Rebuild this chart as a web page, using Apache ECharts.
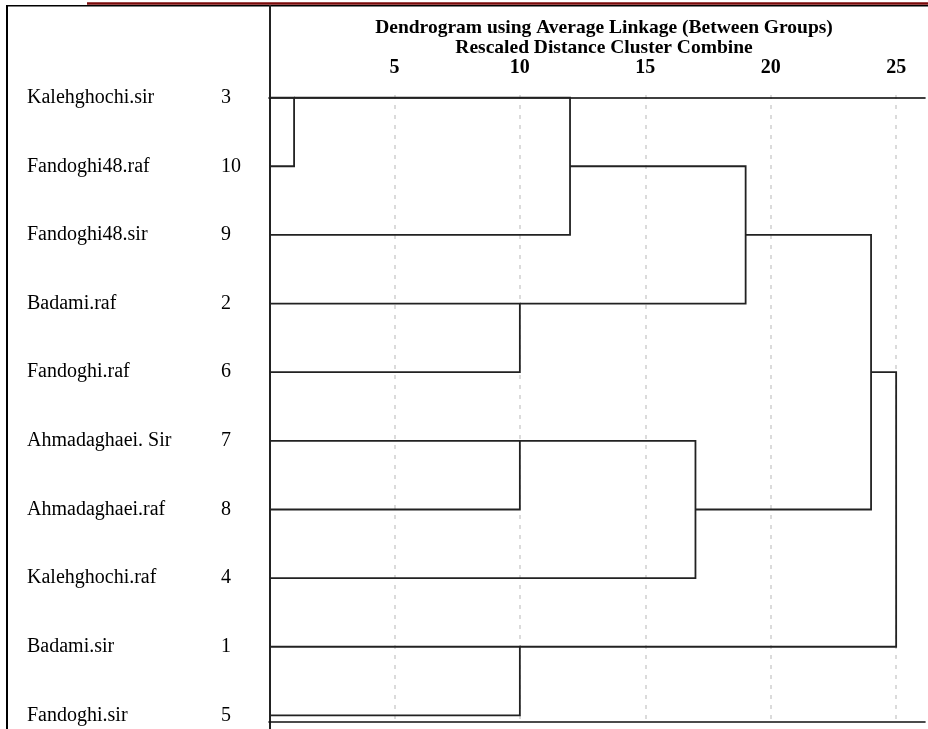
<!DOCTYPE html>
<html>
<head>
<meta charset="utf-8">
<script src="https://cdn.jsdelivr.net/npm/echarts/dist/echarts.min.js"></script>
<style>
html,body{margin:0;padding:0;background:#fff;}
#chart{width:928px;height:729px;}
</style>
</head>
<body>
<div id="chart"></div>
<script>
// ---- data ----
const rowLabels = ['Kalehghochi.sir','Fandoghi48.raf','Fandoghi48.sir','Badami.raf','Fandoghi.raf','Ahmadaghaei. Sir','Ahmadaghaei.raf','Kalehghochi.raf','Badami.sir','Fandoghi.sir'];
const caseNumbers = [3,10,9,2,6,7,8,4,1,5];
const tickValues = [5,10,15,20,25];
// merges: node ids 0..9 are leaves (rows), 10.. are merge results in order
const mergeLeft  = [0, 10, 3, 11, 5, 14, 13, 8, 16];
const mergeRight = [1, 2, 4, 12, 6, 7, 15, 9, 17];
const mergeDist  = [1, 12, 10, 19, 10, 17, 24, 10, 25];
const titleLines = ['Dendrogram using Average Linkage (Between Groups)','Rescaled Distance Cluster Combine'];

// ---- build dendrogram polylines from merge data ----
const nodeX = rowLabels.map(() => 0);
const nodeY = rowLabels.map((_, i) => i);
const segs = [];
for (let k = 0; k < mergeDist.length; k++) {
  const a = mergeLeft[k], b = mergeRight[k], d = mergeDist[k];
  segs.push({coords: [[nodeX[a], nodeY[a]], [d, nodeY[a]], [d, nodeY[b]], [nodeX[b], nodeY[b]]]});
  nodeX.push(d);
  nodeY.push(Math.floor((nodeY[a] + nodeY[b]) / 2));
}
const rowIdx = rowLabels.map((_, i) => i);

const FONT = '"Liberation Serif","Times New Roman",serif';
const chart = echarts.init(document.getElementById('chart'), null, {renderer: 'canvas'});
chart.setOption({
  animation: false,
  backgroundColor: '#fff',
  title: {
    text: titleLines.join('\n'),
    left: 599, top: 13, textAlign: 'center',
    textStyle: {fontFamily: FONT, fontWeight: 'bold', fontSize: 19.5, lineHeight: 20, color: '#000'}
  },
  grid: {left: 269, right: 0, top: 95, bottom: 7, containLabel: false},
  xAxis: [{
    type: 'value', position: 'top', min: 0, max: 26.15, interval: 5,
    axisLine: {show: true, lineStyle: {color: '#000', width: 1.6}},
    axisTick: {show: false},
    axisLabel: {
      margin: 17, fontFamily: FONT, fontWeight: 'bold', fontSize: 20, color: '#000',
      formatter: v => tickValues.includes(v) ? String(v) : ''
    },
    splitLine: {show: true, showMinLine: false, showMaxLine: false, lineStyle: {color: '#cfcfcf', width: 1.5, type: [4, 6]}}
  }, {
    type: 'value', position: 'bottom', min: 0, max: 26.15,
    axisLine: {show: true, onZero: false, lineStyle: {color: '#111', width: 1.6}},
    axisTick: {show: false}, axisLabel: {show: false}, splitLine: {show: false}
  }],
  yAxis: [{
    type: 'value', inverse: true, min: -0.038, max: 9.096, position: 'left',
    axisLine: {show: false}, axisTick: {show: false}, splitLine: {show: false},
    axisLabel: {
      customValues: rowIdx, align: 'left', margin: 242,
      fontFamily: FONT, fontSize: 20, color: '#000',
      formatter: v => rowLabels[v] ?? ''
    }
  }, {
    type: 'value', inverse: true, min: -0.038, max: 9.096, position: 'left', offset: 0,
    axisLine: {show: false}, axisTick: {show: false}, splitLine: {show: false},
    axisLabel: {
      customValues: rowIdx, align: 'left', margin: 48,
      fontFamily: FONT, fontSize: 20, color: '#000',
      formatter: v => String(caseNumbers[v] ?? '')
    }
  }],
  series: [{
    type: 'lines', coordinateSystem: 'cartesian2d', polyline: true,
    xAxisIndex: 0, yAxisIndex: 0,
    lineStyle: {color: '#222', width: 1.8, opacity: 1},
    data: segs, silent: true
  }],
  graphic: [
    {type: 'line', shape: {x1: 87, y1: 3.5, x2: 928, y2: 3.5}, style: {stroke: '#7a0a0a', lineWidth: 2.5}},
    {type: 'line', shape: {x1: 6, y1: 5.8, x2: 928, y2: 5.8}, style: {stroke: '#000', lineWidth: 1.6}},
    {type: 'line', shape: {x1: 7, y1: 5, x2: 7, y2: 729}, style: {stroke: '#000', lineWidth: 2}},
    {type: 'line', shape: {x1: 270, y1: 5, x2: 270, y2: 729}, style: {stroke: '#222', lineWidth: 2}}
  ]
});
</script>
</body>
</html>
